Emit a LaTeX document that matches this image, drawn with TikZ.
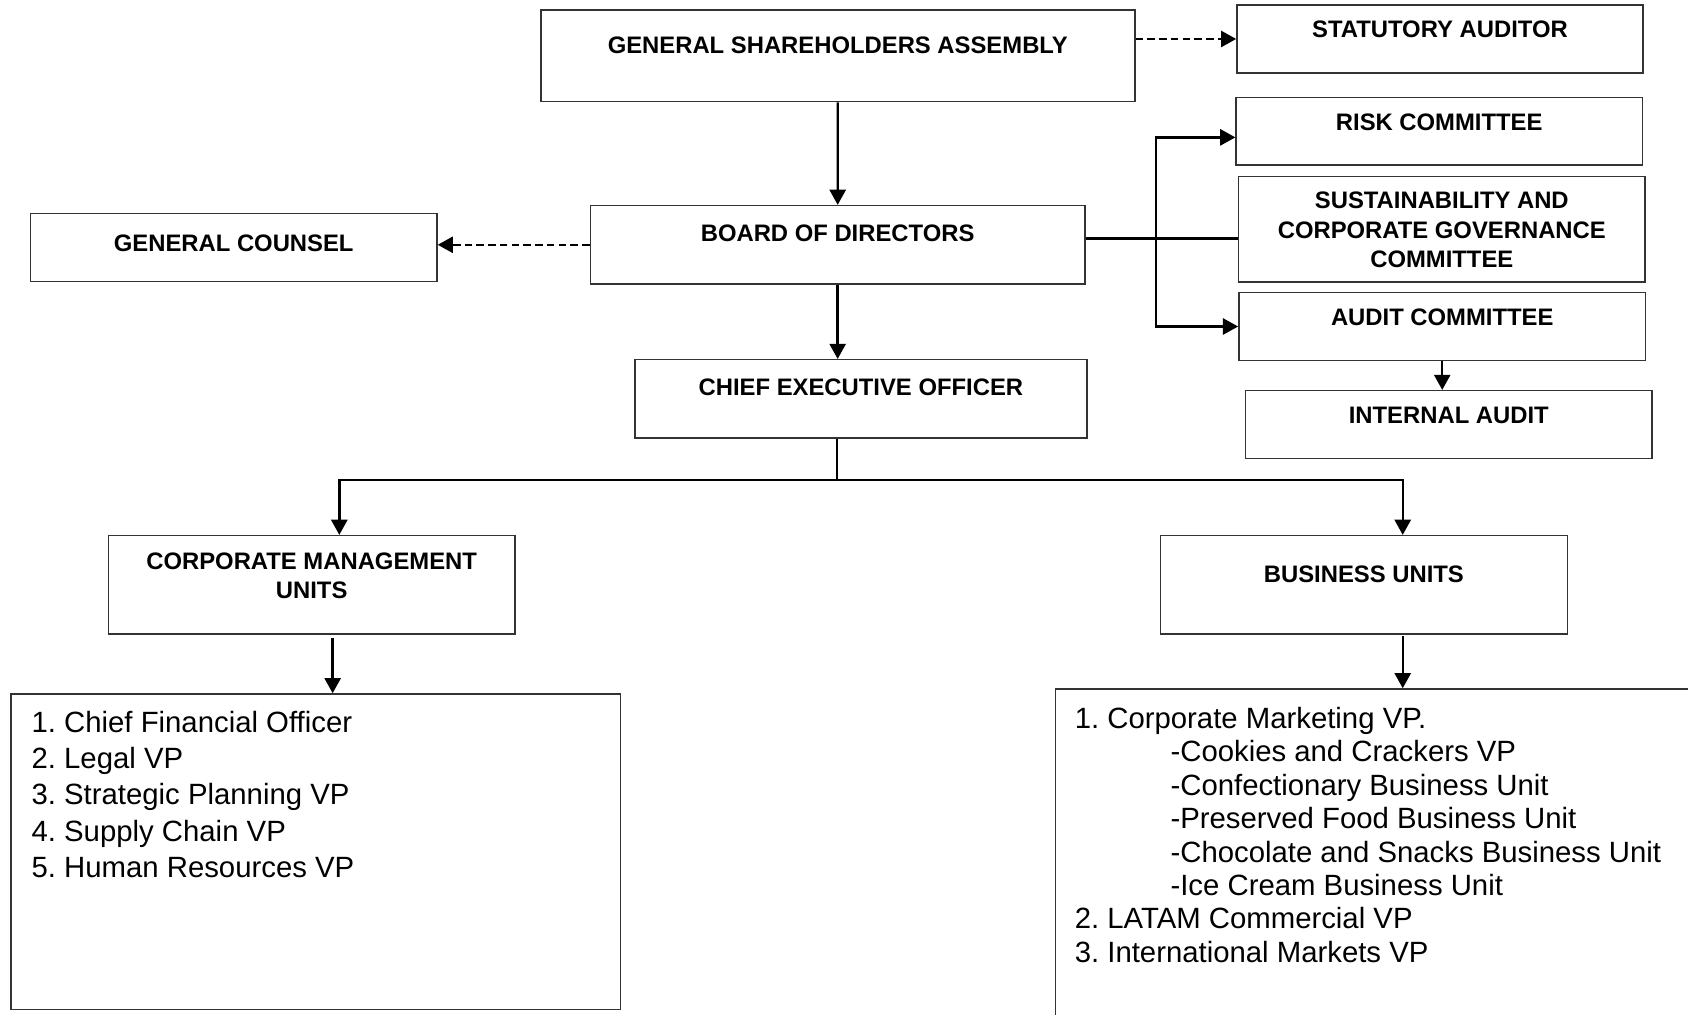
\documentclass[tikz,border=0pt]{standalone}
\usepackage{fontspec}
\setmainfont{Liberation Sans}
\usetikzlibrary{positioning,arrows.meta}
\frenchspacing

\begin{document}
\begin{tikzpicture}[x=0.2mm, y=-0.2mm, >={Triangle[length=8pt,width=8.5pt]},
  box/.style 2 args={draw=black!80, line width=0.8pt, inner sep=0pt, minimum width=#1, minimum height=#2},
  head/.style={font=\fontsize{12.6}{15.6}\selectfont\bfseries, align=center, inner sep=0pt},
  item/.style={font=\fontsize{15.5}{18}\selectfont, anchor=base west, inner sep=0pt},
  link/.style={draw=black, line width=1.25pt},
  dashlink/.style={link, dash pattern=on 4pt off 2.2pt}]
  \useasboundingbox (0,0) rectangle (1568,942);
  \clip (0,0) rectangle (1568,942);

  \node[box={110.38mm}{17.02mm}] (gsa) at (778.25,51.85) {};
  \node[box={75.44mm}{12.6mm}] (stat) at (1337.6,36.2) {};
  \node[box={75.46mm}{12.52mm}] (risk) at (1336.9,122) {};
  \node[box={75.46mm}{19.58mm}] (sust) at (1339.3,212.8) {};
  \node[box={75.56mm}{12.56mm}] (audit) at (1339.7,303.3) {};
  \node[box={75.5mm}{12.64mm}] (intl) at (1345.8,394.5) {};
  \node[box={91.9mm}{14.56mm}] (bod) at (778.1,227.4) {};
  \node[box={75.52mm}{12.68mm}] (gc) at (217.1,229.9) {};
  \node[box={83.94mm}{14.5mm}] (ceo) at (799.7,370.4) {};
  \node[box={75.48mm}{18.26mm}] (cmu) at (289.5,543.2) {};
  \node[box={75.64mm}{18.26mm}] (bu) at (1266.9,543.2) {};
  \node[box={113.3mm}{58.62mm}] (cmul) at (293.3,791.2) {};
  \node[box={123.92mm}{68mm}] (bul) at (1290.2,810) {};

  \node[head] (gsa-t) at (778.2,41.8) {GENERAL SHAREHOLDERS ASSEMBLY};
  \node[head] (stat-t) at (1337.6,27.3) {STATUTORY AUDITOR};
  \node[head] (risk-t) at (1336.9,113.6) {RISK COMMITTEE};
  \node[head] (sust-t) at (1339.3,213.7) {SUSTAINABILITY AND\\CORPORATE GOVERNANCE\\COMMITTEE};
  \node[head] (audit-t) at (1339.7,294.8) {AUDIT COMMITTEE};
  \node[head] (intl-t) at (1345.8,385.5) {INTERNAL AUDIT};
  \node[head] (bod-t) at (778.1,216.7) {BOARD OF DIRECTORS};
  \node[head] (gc-t) at (217.1,226) {GENERAL COUNSEL};
  \node[head] (ceo-t) at (799.7,360.1) {CHIEF EXECUTIVE OFFICER};
  \node[head] (cmu-t) at (289.5,534.7) {CORPORATE MANAGEMENT\\UNITS};
  \node[head] (bu-t) at (1266.9,533.3) {BUSINESS UNITS};

  \foreach \t [count=\i] in {1. Chief Financial Officer, 2. Legal VP,
      3. Strategic Planning VP, 4. Supply Chain VP, 5. Human Resources VP}
    \node[item] (cmul-\i) at (29,{680.1+33.8*(\i-1)}) {\t};
  \foreach \x/\t [count=\i] in {998/1. Corporate Marketing VP.,
      1087/-Cookies and Crackers VP, 1087/-Confectionary Business Unit,
      1087/-Preserved Food Business Unit, 1087/-Chocolate and Snacks Business Unit,
      1087/-Ice Cream Business Unit, 998/2. LATAM Commercial VP,
      998/3. International Markets VP}
    \node[item] (bul-\i) at (\x,{676.7+31.03*(\i-1)}) {\t};

  \coordinate (bus) at (1074,221.7);
  \coordinate (fork) at (777.2,445.8);
  \coordinate (cmu-in) at (315.2,445.8);
  \coordinate (bu-in) at (1303,445.8);
  \coordinate (cmu-out) at (309,592.5);
  \coordinate (bu-out) at (1303,591);

  \draw[link,->] (gsa) to (bod);
  \draw[dashlink,->] (gsa.east |- stat.west) to (stat.west);
  \draw[dashlink,->] (bod.west) to (bod.west -| gc.east);
  \draw[link,->] (bod.south) to (bod.south |- ceo.north);
  \draw[link] (bus -| bod.east) to (bus -| sust.west);
  \draw[link,<->] ([yshift=-1.12mm]risk.west) -| (bus) |- (audit.west);
  \draw[link,->] (audit.south) to (audit.south |- intl.north);
  \draw[link] (ceo.south -| fork) to (fork);
  \draw[link,<->] (cmu-in |- cmu.north) -- (cmu-in) -- (bu-in) -- (bu-in |- bu.north);
  \draw[link,->] (cmu-out) to (cmu-out |- cmul.north);
  \draw[link,->] (bu-out) to (bu-out |- bul.north);
\end{tikzpicture}
\end{document}
